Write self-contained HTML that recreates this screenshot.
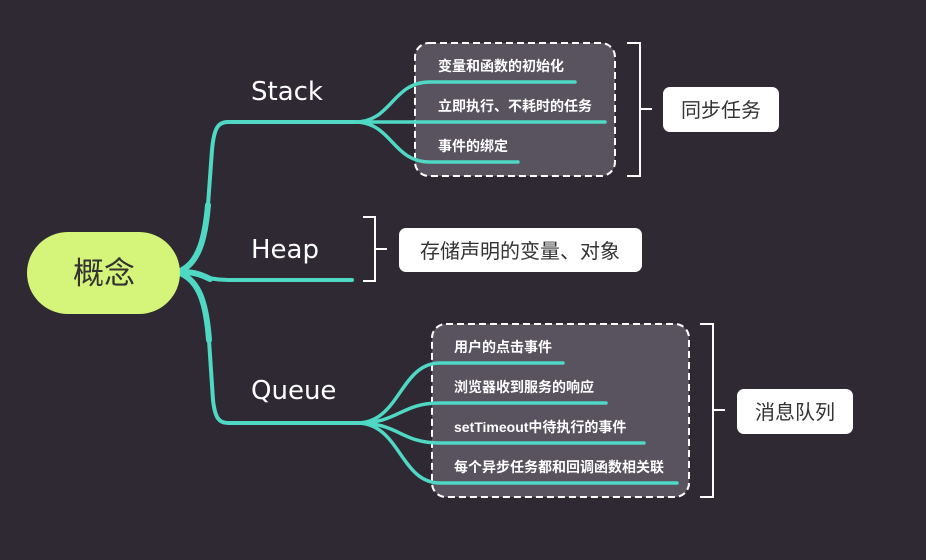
<!DOCTYPE html>
<html><head><meta charset="utf-8"><style>
html,body{margin:0;padding:0;background:#2e2933;}
svg{display:block}
.t{font-family:"Liberation Sans","Noto Sans CJK SC",sans-serif;}
.d{font-family:"DejaVu Sans","Liberation Sans",sans-serif;}
</style></head><body>
<svg width="926" height="560" viewBox="0 0 926 560" xmlns="http://www.w3.org/2000/svg">
<rect width="926" height="560" fill="#2e2933"/>
<rect x="415" y="43" width="200" height="133" rx="14" fill="#58535e" stroke="#fff" stroke-width="2" stroke-dasharray="7,4"/>
<rect x="432" y="324" width="257" height="173" rx="14" fill="#58535e" stroke="#fff" stroke-width="2" stroke-dasharray="7,4"/>
<g fill="none" stroke="#4fd8c4" stroke-linecap="round">
<path d="M180,272 C198,262 206,245 208,205 L212,150 C214,128 218,122 228,122 L355,122" stroke-width="4"/>
<path d="M182,270 C198,262 205,240 208,205" stroke-width="6"/>
<path d="M180,272 C198,272 205,280 228,280 L352,280" stroke-width="4"/>
<path d="M182,272 C196,272 204,276 210,279" stroke-width="6"/>
<path d="M180,272 C198,282 207,300 209,340 L213,400 C215,418 219,423 228,423 L357,423" stroke-width="4"/>
<path d="M182,274 C198,282 206,300 209,340" stroke-width="6"/>
<path d="M355,122 C392,122 392,82 430,82 L575,82" stroke-width="3.5"/>
<path d="M355,122 L605,122" stroke-width="3.5"/>
<path d="M355,122 C392,122 392,162 430,162 L518,162" stroke-width="3.5"/>
<path d="M357,423 C400,423 400,363 440,363 L563,363" stroke-width="3.5"/>
<path d="M357,423 C400,423 400,403 440,403 L606,403" stroke-width="3.5"/>
<path d="M357,423 C400,423 400,443 440,443 L644,443" stroke-width="3.5"/>
<path d="M357,423 C400,423 400,483 440,483 L677,483" stroke-width="3.5"/>
</g>
<rect x="27" y="232" width="153" height="82" rx="41" fill="#d4f57a"/>
<text x="104" y="284" class="t" font-size="31" fill="#333" text-anchor="middle">概念</text>
<g class="d" fill="#fff" font-size="26">
<text x="251" y="100">Stack</text>
<text x="251" y="258">Heap</text>
<text x="251" y="399">Queue</text>
</g>
<g class="t" fill="#fff" font-size="14" font-weight="bold">
<text x="438" y="71">变量和函数的初始化</text>
<text x="438" y="111">立即执行、不耗时的任务</text>
<text x="438" y="151">事件的绑定</text>
<text x="454" y="352">用户的点击事件</text>
<text x="454" y="392">浏览器收到服务的响应</text>
<text x="454" y="432">setTimeout中待执行的事件</text>
<text x="454" y="472">每个异步任务都和回调函数相关联</text>
</g>
<g fill="none" stroke="#fff" stroke-width="2">
<path d="M627,43 H640 V176 H627 M640,109 H652"/>
<path d="M363,217 H375 V281 H363 M375,249 H387"/>
<path d="M700,324 H713 V497 H700 M713,410 H725"/>
</g>
<rect x="663" y="87" width="116" height="45" rx="7" fill="#fff"/>
<text x="721" y="117" class="t" font-size="20" fill="#333" text-anchor="middle">同步任务</text>
<rect x="399" y="228" width="243" height="44" rx="7" fill="#fff"/>
<text x="520" y="258" class="t" font-size="20" fill="#333" text-anchor="middle">存储声明的变量、对象</text>
<rect x="737" y="389" width="116" height="45" rx="7" fill="#fff"/>
<text x="795" y="419" class="t" font-size="20" fill="#333" text-anchor="middle">消息队列</text>
</svg>
</body></html>
